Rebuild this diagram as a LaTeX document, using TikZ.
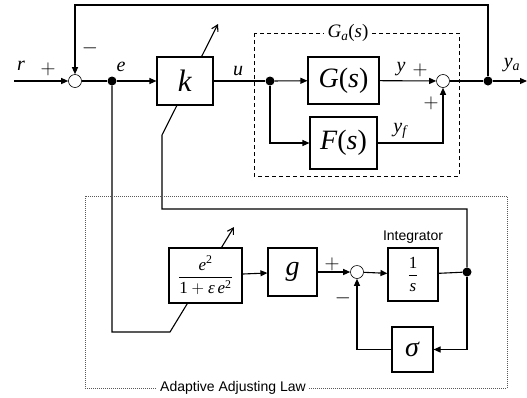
\documentclass[tikz,border=0pt]{standalone}
\usepackage{amsmath}
\usepackage{fontspec}
\setmainfont{Liberation Serif}
\newfontfamily\sansf{Liberation Sans}
\usetikzlibrary{arrows.meta,backgrounds}
\begin{document}
\begin{tikzpicture}[x=1pt,y=-1pt,
  blk/.style={draw, line width=1.1pt, fill=white, inner sep=0pt},
  sumc/.style={circle, draw, line width=0.6pt, fill=white, minimum size=13pt, inner sep=0pt},
  dotn/.style={circle, fill=black, minimum size=9pt, inner sep=0pt},
  ln/.style={line width=1.1pt},
  arr/.style={ln, -{Triangle[length=7pt,width=6pt]}},
  adj/.style={ln, -{Straight Barb[length=6pt,width=7pt]}},
  lbl/.style={font=\fontsize{20}{24}\selectfont, inner sep=0pt},
  big/.style={font=\fontsize{28}{32}\selectfont}]
\useasboundingbox (0,0) rectangle (527,397);
% frames
\draw[line width=1pt, dash pattern=on 4pt off 3pt] (254,33) rectangle (459,176);
\node[font=\fontsize{19}{22}\selectfont, fill=white, inner xsep=4pt, inner ysep=0pt] (galbl) at (348,33) {\textit{G}$_{\textit{a}}$(\textit{s})};
\draw[line width=0.8pt, gray!70!black, dash pattern=on 1pt off 1pt] (85,196) rectangle (507,388);
\node[font=\sansf\fontsize{14}{16}\selectfont, fill=white, inner xsep=3pt, inner ysep=1pt] (alaw) at (233,388) {Adaptive Adjusting Law};
% top nodes
\coordinate (in) at (14,81);
\node[sumc] (s1) at (75,81) {};
\node[dotn] (de) at (112,81) {};
\node[blk, minimum width=56pt, minimum height=48pt, font=\fontsize{31}{34}\selectfont] (K) at (185,81) {\textit{k}};
\node[dotn] (du) at (270,81) {};
\node[blk, minimum width=71pt, minimum height=47pt, big] (G) at (343.5,80.5) {\textit{G}(\textit{s})};
\node[blk, minimum width=67pt, minimum height=52pt, big] (F) at (343.5,143) {\textit{F}(\textit{s})};
\node[sumc] (s2) at (443,81) {};
\node[dotn] (dy) at (488,81) {};
\coordinate (out) at (527,81);
\coordinate (top) at (488,5);
% bottom nodes
\node[blk, minimum width=73pt, minimum height=55pt, font=\fontsize{17}{20}\selectfont] (E) at (205.5,275.5) {$\dfrac{\textit{e}^{\textup{2}}}{\textup{1}+\textit{ε}\,\textit{e}^{\textup{2}}}$};
\node[blk, minimum width=49pt, minimum height=48pt, big] (g) at (292.5,272) {\textit{g}};
\node[sumc] (s3) at (357,272) {};
\node[blk, minimum width=50pt, minimum height=53pt, font=\fontsize{17}{20}\selectfont] (I) at (413,274.5) {$\dfrac{\textup{1}}{\textit{s}}$};
\node[dotn] (di) at (467,272) {};
\node[blk, minimum width=41pt, minimum height=45pt, big] (sg) at (412.5,349.5) {\textit{σ}};
\coordinate (ktop) at (467,209);
\coordinate (kbot) at (162,135);
\coordinate (kend) at (218,24);
\coordinate (ebot) at (170,332);
\coordinate (eend) at (234,227);
% connectors
\begin{pgfonlayer}{background}
\draw[arr] (in) -- (s1);
\draw[ln] (s1) -- (de);
\draw[arr] (de) -- (K);
\draw[ln] (K) -- (du);
\draw[arr] (du) -- (G);
\draw[arr] (du) |- (F);
\draw[arr] (G) -- (s2);
\draw[arr] (F) -| (s2);
\draw[ln] (s2) -- (dy);
\draw[arr] (dy) -- (out);
\draw[arr] (dy) -- (top) -| (s1);
\draw[adj] (de) |- (ebot) -- (eend);
\draw[adj] (di) -- (ktop) -| (kbot) -- (kend);
\draw[arr] (E) -- (g);
\draw[arr] (g) -- (s3);
\draw[arr] (s3) -- (I);
\draw[ln] (I) -- (di);
\draw[arr] (di) |- (sg);
\draw[arr] (sg) -| (s3);
\end{pgfonlayer}
% labels
\node[lbl] (lr) at (21,66) {\textit{r}};
\node[lbl] (lp1) at (48,69) {$+$};
\node[lbl] (lm1) at (90,48) {$-$};
\node[lbl] (le) at (121,67) {\textit{e}};
\node[lbl] (lu) at (238,71) {\textit{u}};
\node[lbl] (ly) at (401,69) {\textit{y}};
\node[lbl] (lp2) at (420,70) {$+$};
\node[lbl] (lyf) at (400,131) {\textit{y}$_{\textit{f}}$};
\node[lbl] (lp3) at (431,103) {$+$};
\node[lbl] (lya) at (512,65) {\textit{y}$_{\textit{a}}$};
\node[lbl] (lp4) at (332,264) {$+$};
\node[lbl] (lm2) at (343,298) {$-$};
\node[font=\sansf\fontsize{14}{16}\selectfont, inner sep=0pt] (lint) at (413,237) {Integrator};
\end{tikzpicture}
\end{document}
